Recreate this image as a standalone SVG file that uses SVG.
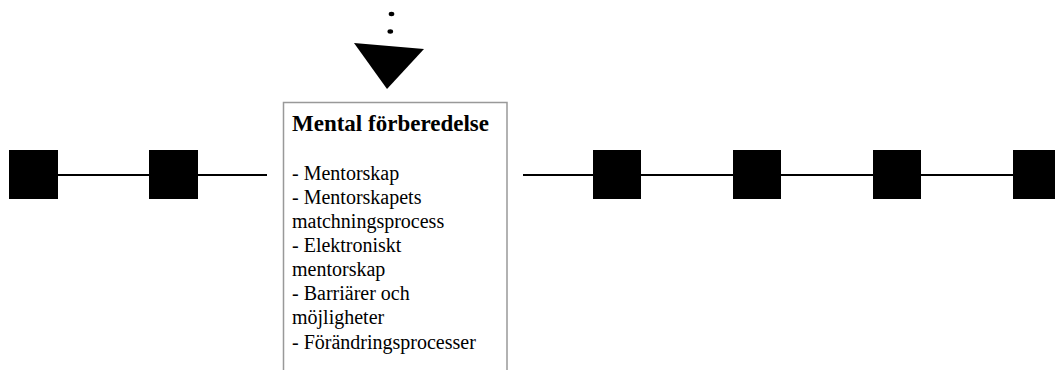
<svg xmlns="http://www.w3.org/2000/svg" width="1055" height="370" viewBox="0 0 1055 370">
<style>
.sq{fill:#000;}
.ln{stroke:#000;stroke-width:2;fill:none;}
.box{fill:#fff;stroke:#999;stroke-width:1.5;}
.t{font-family:"Liberation Serif","Times New Roman",serif;fill:#000;}
.h{font-weight:bold;font-size:23px;}
.b{font-size:20px;}
</style>
<rect width="1055" height="370" fill="#fff"/>
<g id="connectors">
<line class="ln" x1="57" y1="175" x2="267" y2="175"/>
<line class="ln" x1="523" y1="175" x2="1055" y2="175"/>
</g>
<g id="arrow">
<ellipse cx="391.5" cy="14" rx="2.8" ry="2.2"/>
<ellipse cx="390.3" cy="31.5" rx="2.8" ry="2.2"/>
<polygon points="354,43 424,49 387,89" fill="#000"/>
</g>
<g id="n1"><rect class="sq" x="9" y="150" width="49" height="49"/></g>
<g id="n2"><rect class="sq" x="149" y="150" width="49" height="49"/></g>
<g id="n3"><rect class="sq" x="593" y="150" width="48" height="49"/></g>
<g id="n4"><rect class="sq" x="733" y="150" width="48" height="49"/></g>
<g id="n5"><rect class="sq" x="873" y="150" width="48" height="49"/></g>
<g id="n6"><rect class="sq" x="1013" y="150" width="48" height="49"/></g>
<g id="main">
<rect class="box" x="283.5" y="102.5" width="223.5" height="280"/>
<text class="t h" x="292" y="131">Mental förberedelse</text>
<text class="t b" x="292" y="180">- Mentorskap</text>
<text class="t b" x="292" y="204">- Mentorskapets</text>
<text class="t b" x="292" y="228">matchningsprocess</text>
<text class="t b" x="292" y="252">- Elektroniskt</text>
<text class="t b" x="292" y="276">mentorskap</text>
<text class="t b" x="292" y="300">- Barriärer och</text>
<text class="t b" x="292" y="324">möjligheter</text>
<text class="t b" x="292" y="349">- Förändringsprocesser</text>
</g>
</svg>
